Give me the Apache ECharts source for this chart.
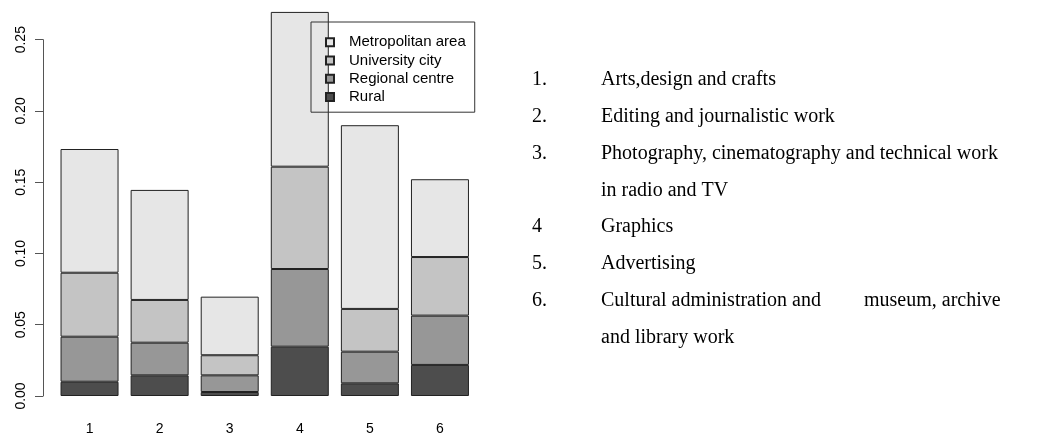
<!DOCTYPE html>
<html>
<head>
<meta charset="utf-8">
<script src="https://cdn.jsdelivr.net/npm/echarts@6/dist/echarts.min.js"></script>
<style>
  html, body { margin: 0; padding: 0; background: #fff; }
  #main { width: 1038px; height: 439px; }
</style>
</head>
<body>
<div id="main"></div>
<script>
// categories on the x axis
var categories = ['1', '2', '3', '4', '5', '6'];
// stacked shares, bottom to top
var rural = [0.0100, 0.0145, 0.0028, 0.0346, 0.0089, 0.0218];
var regional = [0.0316, 0.0229, 0.0117, 0.0545, 0.0222, 0.0346];
var university = [0.0449, 0.0300, 0.0141, 0.0718, 0.0300, 0.0411];
var metropolitan = [0.0868, 0.0772, 0.0411, 0.1086, 0.1289, 0.0546];
var yTicks = [0, 0.05, 0.10, 0.15, 0.20, 0.25];

// the key beside the plot
var keyNums = ['1.', '2.', '3.', '', '4', '5.', '6.', ''];
var keyText = [
  'Arts,design and crafts',
  'Editing and journalistic work',
  'Photography, cinematography and technical work',
  'in radio and TV',
  'Graphics',
  'Advertising',
  'Cultural administration and',
  'and library work'
];
var keyExtra = { 6: 'museum, archive' };

var chart = echarts.init(document.getElementById('main'));

function bar(name, data, color) {
  return {
    name: name,
    type: 'bar',
    stack: 'all',
    data: data,
    barWidth: 58,
    clip: false,
    itemStyle: { color: color, borderColor: '#222', borderWidth: 1 },
    emphasis: { disabled: true }
  };
}

// key text on the right
var serif = '20px "Liberation Serif"';
var graphics = [];
keyText.forEach(function (t, i) {
  var y = 80 + i * 36.8;
  if (keyNums[i]) {
    graphics.push({ type: 'text', x: 532, y: y,
      style: { text: keyNums[i], fill: '#000', font: serif, verticalAlign: 'middle' } });
  }
  graphics.push({ type: 'text', x: 601, y: y,
    style: { text: t, fill: '#000', font: serif, verticalAlign: 'middle' } });
  if (keyExtra[i]) {
    graphics.push({ type: 'text', x: 864, y: y,
      style: { text: keyExtra[i], fill: '#000', font: serif, verticalAlign: 'middle' } });
  }
});

var option = {
  backgroundColor: '#fff',
  animation: false,
  grid: {
    left: 54.5, right: 563, top: 39.7, bottom: 43,
    outerBoundsMode: 'none'
  },
  legend: {
    data: ['Metropolitan area', 'University city', 'Regional centre', 'Rural'],
    orient: 'vertical',
    left: 311, top: 22,
    padding: [11, 9, 6, 14],
    icon: 'rect',
    itemWidth: 8, itemHeight: 8,
    itemGap: 0,
    borderColor: '#333', borderWidth: 1,
    backgroundColor: 'transparent',
    selectedMode: false,
    textStyle: {
      fontFamily: 'Liberation Sans', fontSize: 15, color: '#000',
      lineHeight: 18.3, padding: [0, 0, 0, 10]
    }
  },
  xAxis: {
    type: 'category',
    data: categories,
    axisLine: { show: false },
    axisTick: { show: false },
    axisLabel: { margin: 26, fontFamily: 'Liberation Sans', fontSize: 14, color: '#000' }
  },
  yAxis: {
    type: 'value',
    min: 0, max: 0.25, interval: 0.05,
    offset: 11.5,
    splitLine: { show: false },
    axisLine: { show: true, lineStyle: { color: '#555', width: 1 } },
    axisTick: { show: true, length: 8, lineStyle: { color: '#555' } },
    axisLabel: {
      rotate: 90, margin: 15,
      fontFamily: 'Liberation Sans', fontSize: 14, color: '#000',
      formatter: function (v) {
        var hit = yTicks.filter(function (t) { return Math.abs(t - v) < 1e-9; });
        return hit.length ? v.toFixed(2) : '';
      }
    }
  },
  series: [
    bar('Rural', rural, '#4D4D4D'),
    bar('Regional centre', regional, '#979797'),
    bar('University city', university, '#C4C4C4'),
    bar('Metropolitan area', metropolitan, '#E6E6E6')
  ],
  graphic: graphics
};

chart.setOption(option);
</script>
</body>
</html>
